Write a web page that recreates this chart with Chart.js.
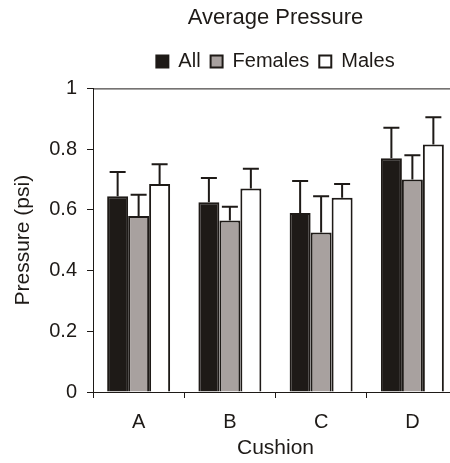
<!DOCTYPE html>
<html>
<head>
<meta charset="utf-8">
<script src="https://cdn.jsdelivr.net/npm/chart.js@4"></script>
<style>
  html, body { margin: 0; padding: 0; background: #fff; overflow: hidden; }
  .wrap { width: 458px; height: 463px; }
</style>
</head>
<body>
<div class="wrap"><canvas id="chart" width="458" height="463"></canvas></div>
<script>
// values
const categories = ['A', 'B', 'C', 'D'];
const allMeans = [0.645, 0.625, 0.59, 0.77];
const allErr = [0.08, 0.08, 0.105, 0.10];
const femaleMeans = [0.58, 0.565, 0.525, 0.70];
const femaleErr = [0.07, 0.045, 0.12, 0.08];
const maleMeans = [0.685, 0.67, 0.64, 0.815];
const maleErr = [0.065, 0.065, 0.045, 0.09];
const yTicks = [0, 0.2, 0.4, 0.6, 0.8, 1];

const errors = [allErr, femaleErr, maleErr];
const FONT = '"Liberation Sans", Arial, sans-serif';
const INK = '#1e1a17';

// upper error bars with a cap, drawn through the scales
const errorBars = {
  id: 'errorBars',
  afterDatasetsDraw(chart) {
    const ctx = chart.ctx;
    const y = chart.scales.y;
    ctx.save();
    ctx.strokeStyle = INK;
    ctx.lineWidth = 2;
    chart.data.datasets.forEach((ds, i) => {
      const meta = chart.getDatasetMeta(i);
      meta.data.forEach((bar, j) => {
        const top = y.getPixelForValue(ds.data[j] + errors[i][j]);
        ctx.beginPath();
        ctx.moveTo(bar.x, bar.y);
        ctx.lineTo(bar.x, top);
        ctx.moveTo(bar.x - 8, top);
        ctx.lineTo(bar.x + 8, top);
        ctx.stroke();
      });
    });
    ctx.restore();
  }
};

// title/legend centred over the plot, extra room under the legend, top edge of the box
const frame = {
  id: 'frame',
  afterInit(chart) {
    const legend = chart.legend;
    const fit = legend.fit.bind(legend);
    legend.fit = function () { fit(); this.height += 7; };
  },
  afterLayout(chart) {
    const { left, right } = chart.chartArea;
    [chart.titleBlock, chart.legend].forEach(box => {
      box.left = left;
      box.right = right;
      box.width = right - left;
    });
  },
  afterDraw(chart) {
    const { ctx, chartArea } = chart;
    ctx.save();
    ctx.strokeStyle = INK;
    ctx.lineWidth = 1;
    ctx.beginPath();
    ctx.moveTo(chartArea.left, chartArea.top + 0.5);
    ctx.lineTo(chartArea.right, chartArea.top + 0.5);
    ctx.stroke();
    ctx.restore();
  }
};

const makeSet = (label, data, fill) => ({
  label,
  data,
  backgroundColor: fill,
  borderColor: INK,
  borderWidth: 2,
  borderSkipped: 'bottom',
  categoryPercentage: 0.69,
  barPercentage: 1.0,
});

new Chart(document.getElementById('chart'), {
  type: 'bar',
  data: {
    labels: categories,
    datasets: [
      makeSet('All', allMeans, INK),
      makeSet('Females', femaleMeans, '#a8a19f'),
      makeSet('Males', maleMeans, '#ffffff'),
    ],
  },
  options: {
    responsive: false,
    animation: false,
    layout: { padding: { left: 0, right: 0, top: 0, bottom: 2 } },
    plugins: {
      title: {
        display: true,
        text: 'Average Pressure',
        color: INK,
        font: { family: FONT, size: 22, weight: 'normal' },
        padding: { top: 5, bottom: 10 },
      },
      legend: {
        position: 'top',
        labels: {
          color: INK,
          font: { family: FONT, size: 20 },
          boxWidth: 12,
          boxHeight: 12,
          padding: 10,
        },
      },
      tooltip: { enabled: false },
    },
    scales: {
      x: {
        grid: {
          offset: true,
          drawOnChartArea: false,
          drawTicks: true,
          tickLength: 6,
          color: INK,
        },
        border: { color: INK, width: 1 },
        ticks: { color: INK, font: { family: FONT, size: 20 }, padding: 12 },
        title: {
          display: true,
          text: 'Cushion',
          color: INK,
          font: { family: FONT, size: 21 },
          padding: { top: 0, bottom: 0 },
        },
        afterFit: (scale) => { scale.height = 69; },
      },
      y: {
        min: 0,
        max: 1,
        afterBuildTicks: (scale) => { scale.ticks = yTicks.map(v => ({ value: v })); },
        grid: {
          drawOnChartArea: false,
          drawTicks: true,
          tickLength: 6,
          color: INK,
        },
        border: { color: INK, width: 1 },
        ticks: {
          color: INK,
          font: { family: FONT, size: 20 },
          padding: 10,
          callback: (v) => String(v),
        },
        title: {
          display: true,
          text: 'Pressure (psi)',
          color: INK,
          font: { family: FONT, size: 21 },
          padding: { top: 11, bottom: 0 },
        },
        afterFit: (scale) => { scale.width = 93; },
      },
    },
  },
  plugins: [errorBars, frame],
});
</script>
</body>
</html>
